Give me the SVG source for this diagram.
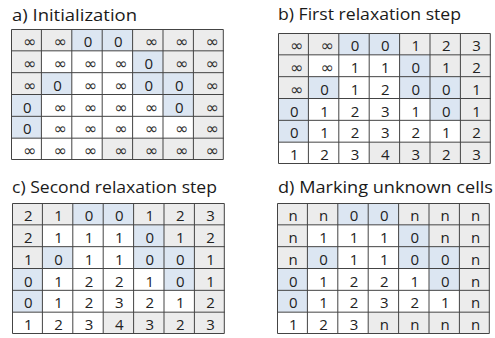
<svg xmlns="http://www.w3.org/2000/svg" xmlns:xlink="http://www.w3.org/1999/xlink" width="495" height="338" viewBox="0 0 495 338">
  <style>
    .title { font-family: "Open Sans", "Liberation Sans", sans-serif; font-size: 17px; fill: #1a1a1a; }
    .v { font-family: "Open Sans", "Liberation Sans", sans-serif; font-size: 15px; fill: #222; text-anchor: middle; }
    .inf { font-family: "DejaVu Sans", "Liberation Sans", sans-serif; font-size: 16px; fill: #333; text-anchor: end; }
    .unknown { fill: #ececec; }
    .seed { fill: #dce6f2; }
    .lines { fill: none; stroke: #444; stroke-width: 1; }
  </style>
  <defs>
    <!-- shading shared by all four 7x6 grids (cell 30.4 x 21.83) -->
    <g id="shade">
      <rect width="212.8" height="131" fill="#fff"/>
      <g class="unknown">
        <rect x="182.4" y="0" width="30.4" height="131"/>
        <rect x="0" y="0" width="60.8" height="21.83"/>
        <rect x="121.6" y="0" width="60.8" height="21.83"/>
        <rect x="0" y="21.83" width="30.4" height="21.84"/>
        <rect x="152" y="21.83" width="30.4" height="21.84"/>
        <rect x="0" y="43.67" width="30.4" height="21.83"/>
        <rect x="91.2" y="109.17" width="91.2" height="21.83"/>
      </g>
      <g class="seed">
        <rect x="60.8" y="0" width="60.8" height="21.83"/>
        <rect x="121.6" y="21.83" width="30.4" height="43.67"/>
        <rect x="30.4" y="43.67" width="30.4" height="21.83"/>
        <rect x="152" y="43.67" width="30.4" height="43.66"/>
        <rect x="0" y="65.5" width="30.4" height="43.67"/>
      </g>
    </g>
    <path id="gridlines" class="lines" d="M0.5,0.5H212.3V130.5H0.5Z
      M30.4,0V131 M60.8,0V131 M91.2,0V131 M121.6,0V131 M152,0V131 M182.4,0V131
      M0,21.83H212.8 M0,43.67H212.8 M0,65.5H212.8 M0,87.33H212.8 M0,109.17H212.8"/>
  </defs>

  <g id="titles">
    <text class="title" x="12" y="21" textLength="125" lengthAdjust="spacingAndGlyphs">a) Initialization</text>
    <text class="title" x="278" y="20" textLength="183" lengthAdjust="spacingAndGlyphs">b) First relaxation step</text>
    <text class="title" x="12" y="193" textLength="205" lengthAdjust="spacingAndGlyphs">c) Second relaxation step</text>
    <text class="title" x="278" y="193" textLength="215" lengthAdjust="spacingAndGlyphs">d) Marking unknown cells</text>
  </g>

  <!-- a) initial distances -->
  <g id="grid-a" transform="translate(11,29)">
    <use xlink:href="#shade"/>
    <use xlink:href="#gridlines"/>
    <g class="inf">
      <text x="25.4" y="18">∞</text><text x="55.8" y="18">∞</text><text x="147" y="18">∞</text><text x="177.4" y="18">∞</text><text x="207.8" y="18">∞</text>
      <text x="25.4" y="39.8">∞</text><text x="55.8" y="39.8">∞</text><text x="86.2" y="39.8">∞</text><text x="116.6" y="39.8">∞</text><text x="177.4" y="39.8">∞</text><text x="207.8" y="39.8">∞</text>
      <text x="25.4" y="61.7">∞</text><text x="86.2" y="61.7">∞</text><text x="116.6" y="61.7">∞</text><text x="207.8" y="61.7">∞</text>
      <text x="55.8" y="83.5">∞</text><text x="86.2" y="83.5">∞</text><text x="116.6" y="83.5">∞</text><text x="147" y="83.5">∞</text><text x="207.8" y="83.5">∞</text>
      <text x="55.8" y="105.3">∞</text><text x="86.2" y="105.3">∞</text><text x="116.6" y="105.3">∞</text><text x="147" y="105.3">∞</text><text x="177.4" y="105.3">∞</text><text x="207.8" y="105.3">∞</text>
      <text x="25.4" y="127.2">∞</text><text x="55.8" y="127.2">∞</text><text x="86.2" y="127.2">∞</text><text x="116.6" y="127.2">∞</text><text x="147" y="127.2">∞</text><text x="177.4" y="127.2">∞</text><text x="207.8" y="127.2">∞</text>
    </g>
    <g class="v">
      <text x="77" y="18">0</text><text x="107.4" y="18">0</text>
      <text x="137.8" y="39.8">0</text>
      <text x="46.6" y="61.7">0</text><text x="137.8" y="61.7">0</text><text x="168.2" y="61.7">0</text>
      <text x="16.2" y="83.5">0</text><text x="168.2" y="83.5">0</text>
      <text x="16.2" y="105.3">0</text>
    </g>
  </g>

  <!-- b) after one relaxation pass -->
  <g id="grid-b" transform="translate(278,33)">
    <use xlink:href="#shade"/>
    <use xlink:href="#gridlines"/>
    <g class="inf">
      <text x="25.4" y="18">∞</text><text x="55.8" y="18">∞</text>
      <text x="25.4" y="39.8">∞</text><text x="55.8" y="39.8">∞</text>
      <text x="25.4" y="61.7">∞</text>
    </g>
    <g class="v">
      <text x="77" y="18">0</text><text x="107.4" y="18">0</text><text x="137.8" y="18">1</text><text x="168.2" y="18">2</text><text x="198.6" y="18">3</text>
      <text x="77" y="39.8">1</text><text x="107.4" y="39.8">1</text><text x="137.8" y="39.8">0</text><text x="168.2" y="39.8">1</text><text x="198.6" y="39.8">2</text>
      <text x="46.6" y="61.7">0</text><text x="77" y="61.7">1</text><text x="107.4" y="61.7">2</text><text x="137.8" y="61.7">0</text><text x="168.2" y="61.7">0</text><text x="198.6" y="61.7">1</text>
      <text x="16.2" y="83.5">0</text><text x="46.6" y="83.5">1</text><text x="77" y="83.5">2</text><text x="107.4" y="83.5">3</text><text x="137.8" y="83.5">1</text><text x="168.2" y="83.5">0</text><text x="198.6" y="83.5">1</text>
      <text x="16.2" y="105.3">0</text><text x="46.6" y="105.3">1</text><text x="77" y="105.3">2</text><text x="107.4" y="105.3">3</text><text x="137.8" y="105.3">2</text><text x="168.2" y="105.3">1</text><text x="198.6" y="105.3">2</text>
      <text x="16.2" y="127.2">1</text><text x="46.6" y="127.2">2</text><text x="77" y="127.2">3</text><text x="107.4" y="127.2">4</text><text x="137.8" y="127.2">3</text><text x="168.2" y="127.2">2</text><text x="198.6" y="127.2">3</text>
    </g>
  </g>

  <!-- c) after the second pass -->
  <g id="grid-c" transform="translate(12,203)">
    <use xlink:href="#shade"/>
    <use xlink:href="#gridlines"/>
    <g class="v">
      <text x="16.2" y="18">2</text><text x="46.6" y="18">1</text><text x="77" y="18">0</text><text x="107.4" y="18">0</text><text x="137.8" y="18">1</text><text x="168.2" y="18">2</text><text x="198.6" y="18">3</text>
      <text x="16.2" y="39.8">2</text><text x="46.6" y="39.8">1</text><text x="77" y="39.8">1</text><text x="107.4" y="39.8">1</text><text x="137.8" y="39.8">0</text><text x="168.2" y="39.8">1</text><text x="198.6" y="39.8">2</text>
      <text x="16.2" y="61.7">1</text><text x="46.6" y="61.7">0</text><text x="77" y="61.7">1</text><text x="107.4" y="61.7">1</text><text x="137.8" y="61.7">0</text><text x="168.2" y="61.7">0</text><text x="198.6" y="61.7">1</text>
      <text x="16.2" y="83.5">0</text><text x="46.6" y="83.5">1</text><text x="77" y="83.5">2</text><text x="107.4" y="83.5">2</text><text x="137.8" y="83.5">1</text><text x="168.2" y="83.5">0</text><text x="198.6" y="83.5">1</text>
      <text x="16.2" y="105.3">0</text><text x="46.6" y="105.3">1</text><text x="77" y="105.3">2</text><text x="107.4" y="105.3">3</text><text x="137.8" y="105.3">2</text><text x="168.2" y="105.3">1</text><text x="198.6" y="105.3">2</text>
      <text x="16.2" y="127.2">1</text><text x="46.6" y="127.2">2</text><text x="77" y="127.2">3</text><text x="107.4" y="127.2">4</text><text x="137.8" y="127.2">3</text><text x="168.2" y="127.2">2</text><text x="198.6" y="127.2">3</text>
    </g>
  </g>

  <!-- d) unreliable cells marked n -->
  <g id="grid-d" transform="translate(277,203)">
    <use xlink:href="#shade"/>
    <use xlink:href="#gridlines"/>
    <g class="v">
      <text x="16.2" y="18">n</text><text x="46.6" y="18">n</text><text x="77" y="18">0</text><text x="107.4" y="18">0</text><text x="137.8" y="18">n</text><text x="168.2" y="18">n</text><text x="198.6" y="18">n</text>
      <text x="16.2" y="39.8">n</text><text x="46.6" y="39.8">1</text><text x="77" y="39.8">1</text><text x="107.4" y="39.8">1</text><text x="137.8" y="39.8">0</text><text x="168.2" y="39.8">n</text><text x="198.6" y="39.8">n</text>
      <text x="16.2" y="61.7">n</text><text x="46.6" y="61.7">0</text><text x="77" y="61.7">1</text><text x="107.4" y="61.7">1</text><text x="137.8" y="61.7">0</text><text x="168.2" y="61.7">0</text><text x="198.6" y="61.7">n</text>
      <text x="16.2" y="83.5">0</text><text x="46.6" y="83.5">1</text><text x="77" y="83.5">2</text><text x="107.4" y="83.5">2</text><text x="137.8" y="83.5">1</text><text x="168.2" y="83.5">0</text><text x="198.6" y="83.5">n</text>
      <text x="16.2" y="105.3">0</text><text x="46.6" y="105.3">1</text><text x="77" y="105.3">2</text><text x="107.4" y="105.3">3</text><text x="137.8" y="105.3">2</text><text x="168.2" y="105.3">1</text><text x="198.6" y="105.3">n</text>
      <text x="16.2" y="127.2">1</text><text x="46.6" y="127.2">2</text><text x="77" y="127.2">3</text><text x="107.4" y="127.2">n</text><text x="137.8" y="127.2">n</text><text x="168.2" y="127.2">n</text><text x="198.6" y="127.2">n</text>
    </g>
  </g>
</svg>
